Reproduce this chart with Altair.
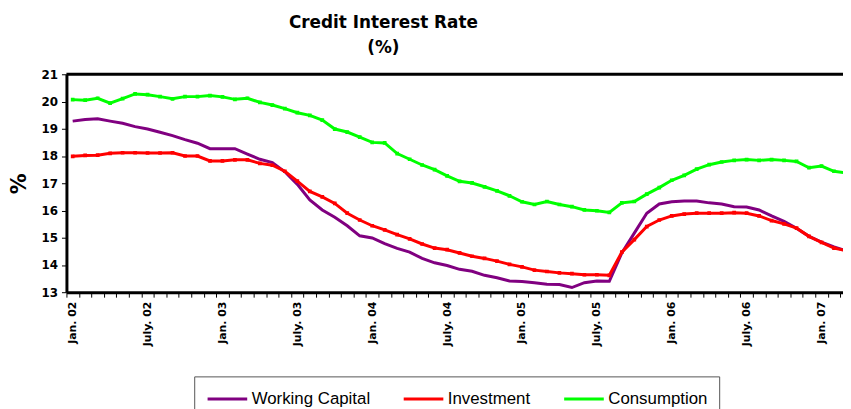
import altair as alt
import pandas as pd

# Monthly index: 0 = Jan. 02 ... 62 = Mar. 07
series_names = ["Working Capital", "Investment", "Consumption"]
series_colors = ["#800080", "#FF0000", "#00FF00"]

working_capital = [19.28, 19.34, 19.37, 19.28, 19.20, 19.08, 18.99, 18.87, 18.75, 18.60,
                   18.47, 18.27, 18.27, 18.27, 18.07, 17.88, 17.76, 17.42, 16.96, 16.39,
                   16.02, 15.75, 15.44, 15.07, 14.99, 14.78, 14.61, 14.47, 14.24, 14.08,
                   13.98, 13.84, 13.77, 13.62, 13.53, 13.41, 13.39, 13.35, 13.29, 13.28,
                   13.17, 13.35, 13.41, 13.40, 14.44, 15.17, 15.90, 16.24, 16.32, 16.35,
                   16.35, 16.28, 16.24, 16.14, 16.13, 16.02, 15.80, 15.60, 15.35, 15.05,
                   14.84, 14.66, 14.52]

investment = [17.99, 18.02, 18.03, 18.10, 18.12, 18.12, 18.11, 18.11, 18.12, 18.00,
              18.00, 17.82, 17.82, 17.86, 17.86, 17.73, 17.66, 17.44, 17.08, 16.70,
              16.50, 16.26, 15.90, 15.65, 15.44, 15.29, 15.11, 14.96, 14.77, 14.62,
              14.56, 14.44, 14.32, 14.24, 14.14, 14.02, 13.93, 13.81, 13.76, 13.71,
              13.68, 13.64, 13.64, 13.62, 14.47, 14.93, 15.41, 15.65, 15.80, 15.87,
              15.90, 15.90, 15.90, 15.92, 15.90, 15.80, 15.63, 15.51, 15.35, 15.05,
              14.83, 14.62, 14.52]

consumption = [20.07, 20.05, 20.12, 19.94, 20.11, 20.28, 20.25, 20.18, 20.10, 20.18,
               20.18, 20.22, 20.17, 20.08, 20.12, 19.97, 19.87, 19.74, 19.59, 19.49,
               19.32, 18.99, 18.88, 18.69, 18.50, 18.48, 18.09, 17.88, 17.67, 17.50,
               17.27, 17.07, 17.01, 16.87, 16.72, 16.54, 16.32, 16.22, 16.33, 16.22,
               16.14, 16.02, 15.99, 15.93, 16.28, 16.33, 16.60, 16.84, 17.11, 17.29,
               17.52, 17.68, 17.78, 17.84, 17.87, 17.84, 17.87, 17.84, 17.80, 17.57,
               17.63, 17.44, 17.38]

x_labels = ["Jan. 02", "July. 02", "Jan. 03", "July. 03", "Jan. 04", "July. 04",
            "Jan. 05", "July. 05", "Jan. 06", "July. 06", "Jan. 07"]
x_label_step = 6
y_ticks = [13, 14, 15, 16, 17, 18, 19, 20, 21]

n = len(working_capital)
rows = []
for name, vals in zip(series_names, [working_capital, investment, consumption]):
    for i, v in enumerate(vals):
        rows.append({"m": i, "value": v, "series": name})
df = pd.DataFrame(rows)

label_arr = [""] * n
for k, lab in enumerate(x_labels):
    label_arr[k * x_label_step] = lab
label_expr = "[" + ",".join("'" + s + "'" for s in label_arr) + "][round(datum.value + 0.5)]"

W, H = 784, 220
px_per_month = 12.6
x_max = -0.5 + W / px_per_month

x_scale = alt.Scale(domain=[-0.5, x_max], nice=False, zero=False)
y_scale = alt.Scale(domain=[13, 21], nice=False, zero=False)
c_scale = alt.Scale(domain=series_names, range=series_colors)

x_axis = alt.Axis(
    title=None,
    values=[k - 0.5 for k in range(n)],
    labelExpr=label_expr,
    labelAngle=-90,
    labelFont="DejaVu Sans",
    labelFontWeight="bold",
    labelFontSize=11,
    labelColor="black",
    labelPadding=4,
    labelOffset=6.3,
    labelOverlap=False,
    labelBound=False,
    labelFlush=False,
    tickSize=5,
    tickWidth=1,
    tickColor="black",
    domainWidth=3,
    domainColor="black",
    grid=False,
)
y_axis = alt.Axis(
    title="%",
    values=y_ticks,
    labelOverlap=False,
    labelFont="DejaVu Sans",
    labelFontWeight="bold",
    labelFontSize=12,
    labelColor="black",
    labelPadding=4,
    tickSize=5,
    tickWidth=1,
    tickColor="black",
    domainWidth=3,
    domainColor="black",
    grid=False,
    titleFont="DejaVu Sans",
    titleFontSize=21,
    titleFontWeight="bold",
    titleColor="black",
    titleAngle=-90,
    titleX=-47,
    titleY=110,
    titleAlign="center",
    titleBaseline="middle",
)

color_enc = alt.Color(
    "series:N",
    scale=c_scale,
    legend=alt.Legend(
        title=None,
        orient="none",
        legendX=129,
        legendY=305,
        direction="horizontal",
        symbolType="M-2,0H2",
        symbolSize=400,
        symbolStrokeWidth=3,
        symbolOffset=11,
        labelFont="Liberation Sans",
        labelFontSize=17,
        labelColor="black",
        labelOffset=13,
        labelLimit=300,
        columnPadding=27,
        padding=11,
        strokeColor="#555555",
        fillColor="white",
    ),
    sort=series_names,
)

base = alt.Chart(df)
lines = base.mark_line(strokeWidth=3, clip=True).encode(
    x=alt.X("m:Q", scale=x_scale, axis=x_axis),
    y=alt.Y("value:Q", scale=y_scale, axis=y_axis),
    color=color_enc,
    order="m:Q",
)
points = base.transform_filter(
    alt.FieldOneOfPredicate(field="series", oneOf=["Investment", "Consumption"])
).mark_point(shape="square", filled=True, size=14, opacity=1, clip=True).encode(
    x=alt.X("m:Q", scale=x_scale, axis=x_axis),
    y=alt.Y("value:Q", scale=y_scale, axis=y_axis),
    color=alt.Color("series:N", scale=c_scale, legend=None),
)
top_border = alt.Chart(pd.DataFrame({"value": [21]})).mark_rule(
    strokeWidth=3, color="black"
).encode(y=alt.Y("value:Q", scale=y_scale, axis=y_axis))

chart = alt.layer(lines, points, top_border).properties(
    width=W,
    height=H,
    title=alt.TitleParams(
        ["Credit Interest Rate", "(%)"],
        font="DejaVu Sans",
        fontSize=17,
        fontWeight="bold",
        color="black",
        anchor="middle",
        dx=-72,
        offset=11,
        lineHeight=26,
    ),
    autosize=alt.AutoSizeParams(type="none"),
    padding={"left": 59, "top": 65, "right": 0, "bottom": 116},
).configure_view(stroke=None).configure(background="white")

chart.save("out.html", embed_options={"renderer": "svg", "actions": False})
